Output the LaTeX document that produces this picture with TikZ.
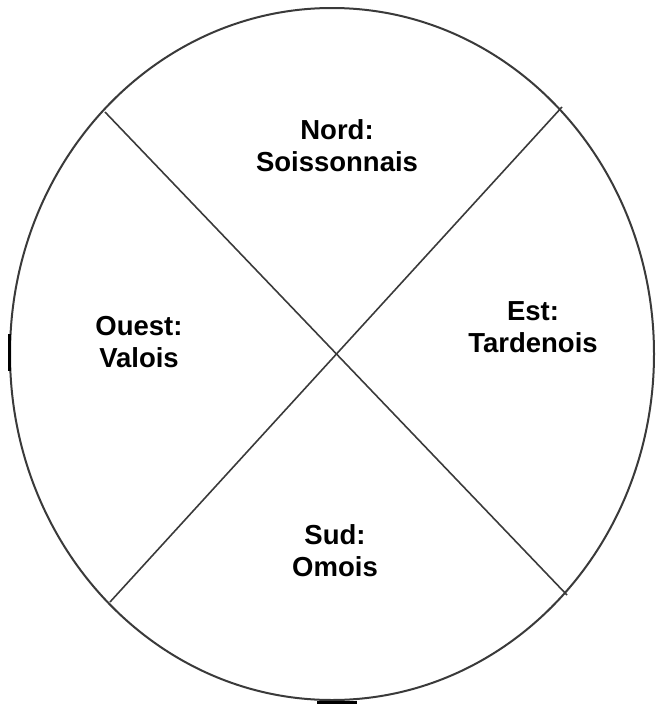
\documentclass[tikz,border=0pt]{standalone}
\usepackage{fontspec}
\setmainfont{Liberation Sans}
\usepackage{tikz}
\usetikzlibrary{positioning, calc}
\definecolor{inkgray}{HTML}{3A3A3A}

\begin{document}
\begin{tikzpicture}[
    x=1pt, y=-1pt,
    region/.style={align=center, font=\fontsize{27.5}{32}\selectfont\bfseries, inner sep=0pt},
    rim/.style={draw=inkgray, line width=2pt},
    divider/.style={draw=inkgray, line width=1.6pt},
    smudge/.style={draw=black, line width=3pt},
]
    \useasboundingbox (0,0) rectangle (657,704);

    \draw[rim] (332,354) ellipse [x radius=322, y radius=346];

    % ends of the two dividing lines
    \coordinate (nw) at (105,112);
    \coordinate (se) at (567,595);
    \coordinate (ne) at (562,107);
    \coordinate (sw) at (110,602);

    \draw[divider] (nw) -- (se);
    \draw[divider] (ne) -- (sw);

    \node[region] (nord) at (337,146) {Nord:\\Soissonnais};
    \node[region] (est) at (533,327) {Est:\\Tardenois};
    \node[region] (ouest) at (139,342) {Ouest:\\Valois};
    \node[region] (sud) at (335,551) {Sud:\\Omois};

    % dark marks on the rim
    \draw[smudge] (9,334) -- (9,371);
    \draw[smudge] (317,702) -- (357,702);
\end{tikzpicture}
\end{document}
